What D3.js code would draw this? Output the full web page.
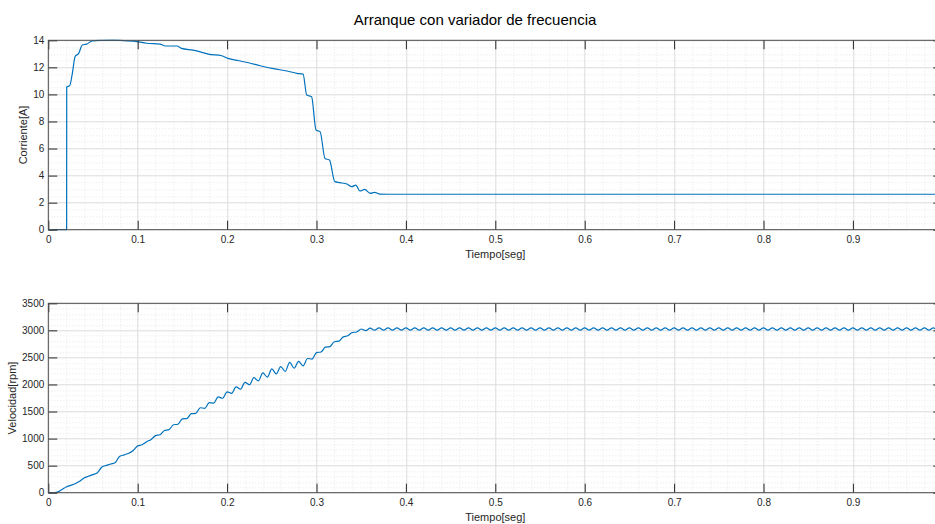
<!DOCTYPE html>
<html>
<head>
<meta charset="utf-8">
<script src="https://cdn.jsdelivr.net/npm/d3@7"></script>
<style>
body { margin: 0; background: #fff; }
svg { display: block; font-family: 'Liberation Sans', Arial, sans-serif; }
</style>
</head>
<body>
<svg width="935" height="524"></svg>
<script>
// tick labels
var xTickValues = [0, 0.1, 0.2, 0.3, 0.4, 0.5, 0.6, 0.7, 0.8, 0.9];
var currentTicks = [0, 2, 4, 6, 8, 10, 12, 14];
var speedTicks = [0, 500, 1000, 1500, 2000, 2500, 3000, 3500];

// corriente [A] vs tiempo [seg]
var currentT = [0, 0.0205, 0.0206, 0.024, 0.027, 0.030, 0.034, 0.038, 0.043, 0.049,
  0.06, 0.072, 0.085, 0.099, 0.11, 0.125, 0.131, 0.144, 0.149, 0.162,
  0.17, 0.179, 0.194, 0.201, 0.213, 0.224, 0.237, 0.252, 0.267, 0.278,
  0.285, 0.289, 0.2945, 0.2995, 0.304, 0.3095, 0.3145, 0.3205, 0.326, 0.334,
  0.3395, 0.344, 0.3485, 0.354, 0.36, 0.365, 0.371, 0.38, 0.39, 1.0];
var currentA = [0, 0, 10.55, 10.65, 11.6, 12.8, 13.03, 13.65, 13.72, 13.95,
  14.0, 14.02, 13.97, 13.9, 13.78, 13.72, 13.58, 13.58, 13.4, 13.27,
  13.15, 12.98, 12.86, 12.66, 12.49, 12.34, 12.12, 11.9, 11.73, 11.56,
  11.5, 9.96, 9.83, 7.37, 7.25, 5.27, 5.15, 3.55, 3.48, 3.38,
  3.18, 3.3, 2.86, 2.98, 2.69, 2.76, 2.63, 2.62, 2.62, 2.62];

// velocidad [rpm], one sample every speedStep seconds from t = 0
var speedStep = 0.005;
var speedRpm = [
  0, 0, 10, 55, 105, 135, 165, 210, 270, 305,
  335, 370, 475, 505, 530, 560, 675, 700, 730, 780,
  865, 885, 940, 985, 1055, 1070, 1150, 1165, 1255, 1265,
  1365, 1370, 1460, 1465, 1570, 1560, 1665, 1655, 1770, 1745,
  1865, 1835, 1955, 1915, 2040, 1995, 2125, 2065, 2215, 2135,
  2290, 2195, 2330, 2240, 2410, 2300, 2425, 2345, 2480, 2470,
  2590, 2600, 2690, 2700, 2790, 2800, 2880, 2900, 2960, 2970,
  3025, 2995, 3040,
  3005, 3045, 3005, 3045, 3005, 3045, 3005, 3045, 3005, 3045,
  3005, 3045, 3005, 3045, 3005, 3045, 3005, 3045, 3005, 3045,
  3005, 3045, 3005, 3045, 3005, 3045, 3005, 3045, 3005, 3045,
  3005, 3045, 3005, 3045, 3005, 3045, 3005, 3045, 3005, 3045,
  3005, 3045, 3005, 3045, 3005, 3045, 3005, 3045, 3005, 3045,
  3005, 3045, 3005, 3045, 3005, 3045, 3005, 3045, 3005, 3045,
  3005, 3045, 3005, 3045, 3005, 3045, 3005, 3045, 3005, 3045,
  3005, 3045, 3005, 3045, 3005, 3045, 3005, 3045, 3005, 3045,
  3005, 3045, 3005, 3045, 3005, 3045, 3005, 3045, 3005, 3045,
  3005, 3045, 3005, 3045, 3005, 3045, 3005, 3045, 3005, 3045,
  3005, 3045, 3005, 3045, 3005, 3045, 3005, 3045, 3005, 3045,
  3005, 3045, 3005, 3045, 3005, 3045, 3005, 3045, 3005, 3045,
  3005, 3045, 3005, 3045, 3005, 3045, 3005, 3045
];

var svg = d3.select('svg');
var left = 48.3;
var plotW = 894;
var plotH = 189.4;
var ink = '#262626';
var lineColor = '#0072bd';

svg
  .append('text')
  .attr('x', 475)
  .attr('y', 25)
  .attr('text-anchor', 'middle')
  .attr('font-size', 15)
  .attr('fill', '#000')
  .text('Arranque con variador de frecuencia');

panel({
  id: 'top',
  top: 40.3,
  yDomain: [0, 14],
  yTicks: currentTicks,
  yMinor: 28,
  yLabel: 'Corriente[A]',
  yLabelX: 27,
  data: currentT.map(function(t, i) {
    return [t, currentA[i]];
  })
});

panel({
  id: 'bottom',
  top: 303.3,
  yDomain: [0, 3500],
  yTicks: speedTicks,
  yMinor: 35,
  yLabel: 'Velocidad[rpm]',
  yLabelX: 16,
  data: speedRpm.map(function(v, i) {
    return [i * speedStep, v];
  })
});

function panel(cfg) {
  var x = d3
    .scaleLinear()
    .domain([0, 1])
    .range([0, plotW]);
  var y = d3
    .scaleLinear()
    .domain(cfg.yDomain)
    .range([plotH, 0]);
  var g = svg
    .append('g')
    .attr('transform', 'translate(' + left + ',' + cfg.top + ')');

  // minor grid (dotted)
  var minor = g.append('g').attr('stroke', '#e6e6e6').attr('stroke-dasharray', '1,2');
  minor
    .selectAll('.mx')
    .data(x.ticks(50).filter(function(d) { return Math.round(d * 50) % 5 !== 0; }))
    .enter()
    .append('line')
    .attr('x1', function(d) { return Math.round(x(d)) + 0.5; })
    .attr('x2', function(d) { return Math.round(x(d)) + 0.5; })
    .attr('y1', 0)
    .attr('y2', plotH);
  minor
    .selectAll('.my')
    .data(y.ticks(cfg.yMinor).filter(function(d) { return cfg.yTicks.indexOf(d) < 0; }))
    .enter()
    .append('line')
    .attr('x1', 0)
    .attr('x2', plotW)
    .attr('y1', function(d) { return Math.round(y(d)) + 0.5; })
    .attr('y2', function(d) { return Math.round(y(d)) + 0.5; });

  // major grid
  var major = g.append('g').attr('stroke', '#dcdcdc');
  major
    .selectAll('.gx')
    .data(xTickValues)
    .enter()
    .append('line')
    .attr('x1', function(d) { return Math.round(x(d)) + 0.5; })
    .attr('x2', function(d) { return Math.round(x(d)) + 0.5; })
    .attr('y1', 0)
    .attr('y2', plotH);
  major
    .selectAll('.gy')
    .data(cfg.yTicks)
    .enter()
    .append('line')
    .attr('x1', 0)
    .attr('x2', plotW)
    .attr('y1', function(d) { return Math.round(y(d)) + 0.5; })
    .attr('y2', function(d) { return Math.round(y(d)) + 0.5; });

  // data line
  var line = d3
    .line()
    .curve(d3.curveMonotoneX)
    .x(function(d) { return x(d[0]); })
    .y(function(d) { return y(d[1]); });
  g
    .append('defs')
    .append('clipPath')
    .attr('id', 'clip-' + cfg.id)
    .append('rect')
    .attr('x', -1)
    .attr('y', -1)
    .attr('width', plotW + 2)
    .attr('height', plotH + 2);
  g
    .append('path')
    .datum(cfg.data)
    .attr('clip-path', 'url(#clip-' + cfg.id + ')')
    .attr('d', line)
    .attr('fill', 'none')
    .attr('stroke', lineColor)
    .attr('stroke-width', 1.2)
    .attr('stroke-linejoin', 'round');

  // axes, ticks pointing inward
  var bottomAxis = g
    .append('g')
    .attr('transform', 'translate(0,' + plotH + ')')
    .call(d3.axisBottom(x)
      .tickValues(xTickValues)
      .tickFormat(function(d) { return String(d); })
      .tickSizeInner(-9)
      .tickSizeOuter(0)
      .tickPadding(6));
  var topAxis = g
    .append('g')
    .call(d3.axisTop(x)
      .tickValues(xTickValues)
      .tickFormat('')
      .tickSizeInner(-9)
      .tickSizeOuter(0));
  var leftAxis = g
    .append('g')
    .call(d3.axisLeft(y)
      .tickValues(cfg.yTicks)
      .tickFormat(d3.format('d'))
      .tickSizeInner(-9)
      .tickSizeOuter(0)
      .tickPadding(4));
  var rightAxis = g
    .append('g')
    .attr('transform', 'translate(' + plotW + ',0)')
    .call(d3.axisRight(y)
      .tickValues(cfg.yTicks)
      .tickFormat('')
      .tickSizeInner(-9)
      .tickSizeOuter(0));
  [bottomAxis, topAxis, leftAxis, rightAxis].forEach(function(a) {
    a.select('.domain').remove();
    a.selectAll('line').attr('stroke', ink);
    a.selectAll('text')
      .attr('fill', ink)
      .attr('font-size', 10)
      .attr('font-family', "'Liberation Sans', Arial, sans-serif");
  });

  // box
  g
    .append('rect')
    .attr('x', 0)
    .attr('y', 0)
    .attr('width', plotW)
    .attr('height', plotH)
    .attr('fill', 'none')
    .attr('stroke', '#4d4d4d')
    .attr('stroke-width', 1);

  // labels
  g
    .append('text')
    .attr('x', plotW / 2)
    .attr('y', plotH + 28)
    .attr('text-anchor', 'middle')
    .attr('font-size', 11)
    .attr('fill', ink)
    .text('Tiempo[seg]');
  svg
    .append('text')
    .attr('transform', 'translate(' + cfg.yLabelX + ',' + (cfg.top + plotH / 2) + ') rotate(-90)')
    .attr('text-anchor', 'middle')
    .attr('font-size', 11)
    .attr('fill', ink)
    .text(cfg.yLabel);
}
</script>
</body>
</html>
